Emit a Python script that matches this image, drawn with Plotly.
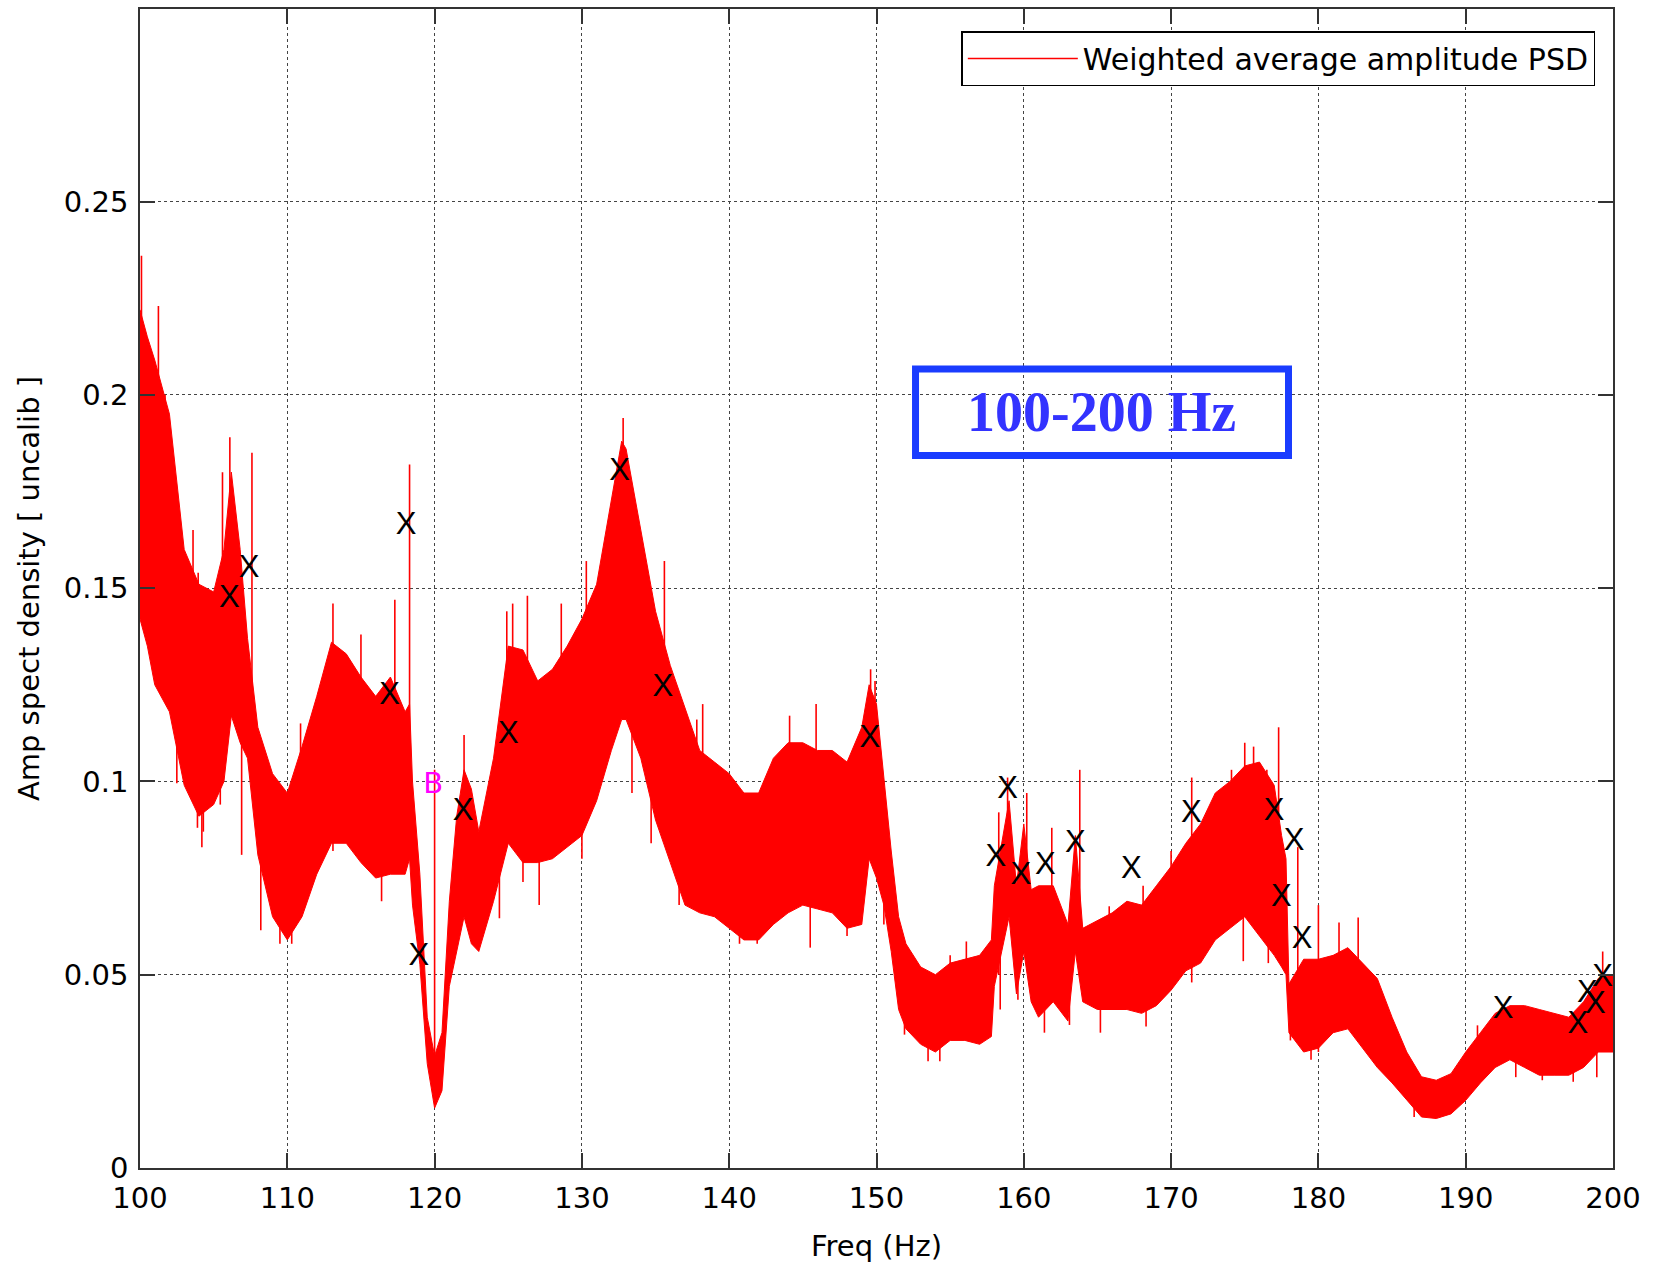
import plotly.graph_objects as go

# ---- data ----
freq = [100.0, 100.5, 101, 102, 103, 104, 105, 105.7, 106.2, 106.8, 107.3, 108, 109, 110,
        111, 112, 113, 114, 115, 116, 117, 118, 118.3, 118.5, 119, 119.5, 120, 120.5, 121,
        121.5, 122, 122.5, 123, 124, 125, 126, 127, 128, 129, 130, 131, 132, 132.7, 133,
        134, 135, 136, 137, 138, 139, 140, 141, 142, 143, 144, 145, 146, 147, 148, 149,
        149.5, 150, 150.5, 151, 151.5, 152, 153, 154, 155, 156, 157, 157.8, 158, 159,
        159.5, 160, 160.5, 161, 162, 163, 163.5, 164, 165, 166, 167, 168, 169, 170, 171,
        172, 173, 174, 175, 176, 177, 177.5, 177.8, 178, 179, 180, 181, 182, 183, 184,
        185, 186, 187, 188, 189, 190, 191, 192, 193, 194, 195, 196, 197, 198, 199, 200]
upper = [0.222, 0.215, 0.209, 0.195, 0.160, 0.151, 0.149, 0.160, 0.180, 0.160, 0.137, 0.114,
         0.102, 0.097, 0.109, 0.122, 0.136, 0.133, 0.127, 0.122, 0.127, 0.118, 0.120, 0.100,
         0.076, 0.039, 0.029, 0.035, 0.069, 0.091, 0.103, 0.098, 0.087, 0.106, 0.135, 0.134,
         0.126, 0.129, 0.135, 0.142, 0.151, 0.173, 0.188, 0.186, 0.165, 0.144, 0.130, 0.119,
         0.108, 0.105, 0.102, 0.097, 0.097, 0.106, 0.110, 0.110, 0.108, 0.108, 0.105, 0.114,
         0.125, 0.120, 0.100, 0.082, 0.065, 0.058, 0.052, 0.050, 0.053, 0.054, 0.055, 0.059,
         0.073, 0.095, 0.073, 0.089, 0.072, 0.073, 0.073, 0.063, 0.086, 0.062, 0.064, 0.066,
         0.069, 0.068, 0.073, 0.078, 0.084, 0.089, 0.097, 0.100, 0.104, 0.105, 0.099, 0.086,
         0.080, 0.0476, 0.054, 0.054, 0.055, 0.057, 0.053, 0.049, 0.039, 0.030, 0.0236, 0.0227,
         0.0244, 0.030, 0.035, 0.040, 0.042, 0.042, 0.041, 0.040, 0.039, 0.043, 0.049, 0.050]
lower = [0.142, 0.135, 0.125, 0.118, 0.099, 0.091, 0.094, 0.100, 0.117, 0.110, 0.106, 0.081,
         0.065, 0.059, 0.065, 0.076, 0.084, 0.084, 0.079, 0.075, 0.076, 0.076, 0.080, 0.068,
         0.0527, 0.027, 0.0155, 0.020, 0.047, 0.056, 0.065, 0.058, 0.056, 0.069, 0.084, 0.079,
         0.079, 0.080, 0.083, 0.086, 0.095, 0.108, 0.116, 0.116, 0.106, 0.090, 0.079, 0.068,
         0.066, 0.065, 0.062, 0.059, 0.059, 0.063, 0.066, 0.068, 0.067, 0.066, 0.062, 0.063,
         0.080, 0.075, 0.068, 0.056, 0.041, 0.036, 0.032, 0.030, 0.033, 0.033, 0.032, 0.034,
         0.047, 0.065, 0.045, 0.056, 0.043, 0.039, 0.043, 0.038, 0.056, 0.043, 0.041, 0.041,
         0.041, 0.040, 0.042, 0.046, 0.051, 0.053, 0.059, 0.062, 0.065, 0.060, 0.055, 0.052,
         0.050, 0.035, 0.030, 0.031, 0.035, 0.036, 0.031, 0.026, 0.022, 0.0175, 0.0132, 0.0128,
         0.014, 0.0175, 0.022, 0.026, 0.028, 0.026, 0.024, 0.024, 0.024, 0.026, 0.030, 0.030]

# narrow lines sticking out of the band: frequency, low end, high end
spike_freq = [100.1, 101.25, 101.7, 102.5, 103.6, 103.9, 103.95, 104.2, 104.3, 105.45, 105.6,
              106.1, 106.9, 107.6, 108.2, 109.5, 110.3, 110.9, 113.1, 113.1, 115.0, 116.4,
              117.3, 118.3, 120.0, 122.0, 124.4, 124.9, 125.3, 126.0, 126.3, 127.1, 128.6,
              130.0, 130.3, 131.2, 132.8, 133.4, 134.4, 134.7, 135.6, 136.6, 137.8, 138.2,
              140.7, 141.9, 144.1, 145.5, 145.9, 148.0, 149.6, 149.9, 150.5, 151.9, 153.5,
              154.3, 155.0, 156.1, 158.3, 158.4, 158.9, 159.6, 160.2, 161.4, 161.9, 163.1,
              163.8, 165.2, 165.8, 168.1, 168.3, 170.0, 171.4, 174.1, 174.9, 175.0, 175.6,
              176.5, 176.6, 177.3, 178.1, 178.6, 179.5, 180.0, 180.8, 181.4, 182.7, 186.5,
              190.8, 193.4, 195.2, 197.3, 198.9, 199.3]
spike_low = [0.15, 0.13, 0.14, 0.0995, 0.10, 0.088, 0.11, 0.083, 0.087, 0.094, 0.11,
             0.12, 0.081, 0.10, 0.0615, 0.058, 0.058, 0.08, 0.09, 0.082, 0.09, 0.069,
             0.08, 0.08, 0.02, 0.07, 0.0646, 0.09, 0.09, 0.074, 0.08, 0.068, 0.09,
             0.080, 0.10, 0.10, 0.12, 0.097, 0.10, 0.084, 0.09, 0.068, 0.08, 0.08,
             0.058, 0.058, 0.08, 0.057, 0.07, 0.060, 0.08, 0.09, 0.063, 0.0345, 0.0276,
             0.0276, 0.04, 0.04, 0.05, 0.041, 0.07, 0.0435, 0.06, 0.035, 0.05, 0.037,
             0.05, 0.035, 0.05, 0.05, 0.0366, 0.06, 0.048, 0.07, 0.0535, 0.07, 0.07,
             0.07, 0.053, 0.06, 0.033, 0.04, 0.028, 0.03, 0.036, 0.04, 0.04, 0.0132,
             0.025, 0.0235, 0.0227, 0.0223, 0.0235, 0.03]
spike_high = [0.236, 0.223, 0.200, 0.13, 0.165, 0.12, 0.154, 0.10, 0.12, 0.12, 0.180,
              0.189, 0.12, 0.185, 0.09, 0.08, 0.08, 0.115, 0.146, 0.10, 0.138, 0.09,
              0.147, 0.182, 0.103, 0.112, 0.09, 0.144, 0.146, 0.10, 0.148, 0.09, 0.146,
              0.10, 0.157, 0.153, 0.194, 0.13, 0.155, 0.11, 0.157, 0.09, 0.116, 0.120,
              0.08, 0.08, 0.117, 0.08, 0.120, 0.08, 0.129, 0.126, 0.08, 0.05, 0.04,
              0.04, 0.055, 0.0586, 0.092, 0.06, 0.101, 0.06, 0.097, 0.05, 0.088, 0.05,
              0.103, 0.05, 0.0677, 0.073, 0.05, 0.082, 0.101, 0.103, 0.07, 0.110, 0.109,
              0.103, 0.07, 0.114, 0.045, 0.083, 0.04, 0.068, 0.045, 0.0635, 0.0648, 0.02,
              0.0369, 0.03, 0.03, 0.03, 0.03, 0.056]

# "X" line markers
mark_freq = [106.07, 107.4, 116.95, 118.07, 118.93, 121.93, 125.0, 132.56, 135.5, 149.55,
             158.1, 158.9, 159.8, 161.47, 163.5, 167.3, 171.38, 176.99, 177.49, 178.35,
             178.9, 192.53, 197.62, 198.26, 198.8, 199.3]
mark_val = [0.147, 0.155, 0.122, 0.166, 0.0545, 0.092, 0.112, 0.180, 0.124, 0.111,
            0.080, 0.0976, 0.0754, 0.078, 0.0838, 0.077, 0.0916, 0.092, 0.0697, 0.0843,
            0.059, 0.0407, 0.037, 0.045, 0.042, 0.049]

b_freq = [119.9]
b_val = [0.099]

x_ticks = [100, 110, 120, 130, 140, 150, 160, 170, 180, 190, 200]
y_ticks = [0, 0.05, 0.1, 0.15, 0.2, 0.25]
y_tick_text = ["0", "0.05", "0.1", "0.15", "0.2", "0.25"]

RED = "#ff0000"
FONT = "DejaVu Sans, Verdana, sans-serif"
XFONT = "Liberation Sans, Arial, Helvetica, sans-serif"

fig = go.Figure()

fig.add_trace(go.Scatter(x=freq, y=lower, mode="lines", line=dict(color=RED, width=1),
                         showlegend=False, hoverinfo="skip"))
fig.add_trace(go.Scatter(x=freq, y=upper, mode="lines", line=dict(color=RED, width=1),
                         fill="tonexty", fillcolor=RED, showlegend=False, hoverinfo="skip"))

sx, sy = [], []
for f, lo, hi in zip(spike_freq, spike_low, spike_high):
    sx += [f, f, None]
    sy += [lo, hi, None]
fig.add_trace(go.Scatter(x=sx, y=sy, mode="lines", line=dict(color=RED, width=1.6),
                         name="Weighted average amplitude PSD", showlegend=True))

fig.add_trace(go.Scatter(x=mark_freq, y=mark_val, mode="text", text=["X"] * len(mark_freq),
                         textposition="middle center",
                         textfont=dict(family=XFONT, size=31, color="black"),
                         showlegend=False))
fig.add_trace(go.Scatter(x=b_freq, y=b_val, mode="text", text=["B"],
                         textposition="middle center",
                         textfont=dict(family=FONT, size=29, color="#ff00ff"),
                         showlegend=False))

fig.add_shape(type="rect", xref="x", yref="y", x0=152.65, x1=177.97, y0=0.1843, y1=0.2067,
              line=dict(color="#1a3cff", width=7), fillcolor="rgba(0,0,0,0)")
fig.add_annotation(x=165.3, y=0.1955, xref="x", yref="y", text="100-200 Hz", showarrow=False,
                   font=dict(family="Liberation Serif, Times New Roman, serif", size=56,
                             color="#3333ff", weight="bold"))

axis_common = dict(
    showline=True, linecolor="#333333", linewidth=1.5, mirror="ticks",
    ticks="inside", ticklen=15, tickwidth=1.5, tickcolor="#333333",
    showgrid=True, gridcolor="#444444", gridwidth=1, griddash="dot",
    zeroline=False, tickfont=dict(family=FONT, size=29, color="black"),
)

fig.update_xaxes(range=[100, 200], tickvals=x_ticks, ticklabelstandoff=3,
                 title=dict(text="Freq (Hz)", font=dict(family=FONT, size=29, color="black"),
                            standoff=22),
                 **axis_common)
fig.update_yaxes(range=[0, 0.2998], tickvals=y_ticks, ticktext=y_tick_text, ticklabelstandoff=4,
                 title=dict(text="Amp spect density [ uncalib ]",
                            font=dict(family=FONT, size=29, color="black"), standoff=16),
                 **axis_common)

fig.update_layout(
    width=1654, height=1268, autosize=False,
    margin=dict(l=140, r=41, t=7, b=100),
    paper_bgcolor="white", plot_bgcolor="white",
    font=dict(family=FONT, size=29, color="black"),
    legend=dict(x=0.988, y=0.981, xanchor="right", yanchor="top",
                bgcolor="white", bordercolor="black", borderwidth=1.5,
                font=dict(family=FONT, size=30, color="black"), itemwidth=110),
    showlegend=True,
)

fig.write_html("out.html")
